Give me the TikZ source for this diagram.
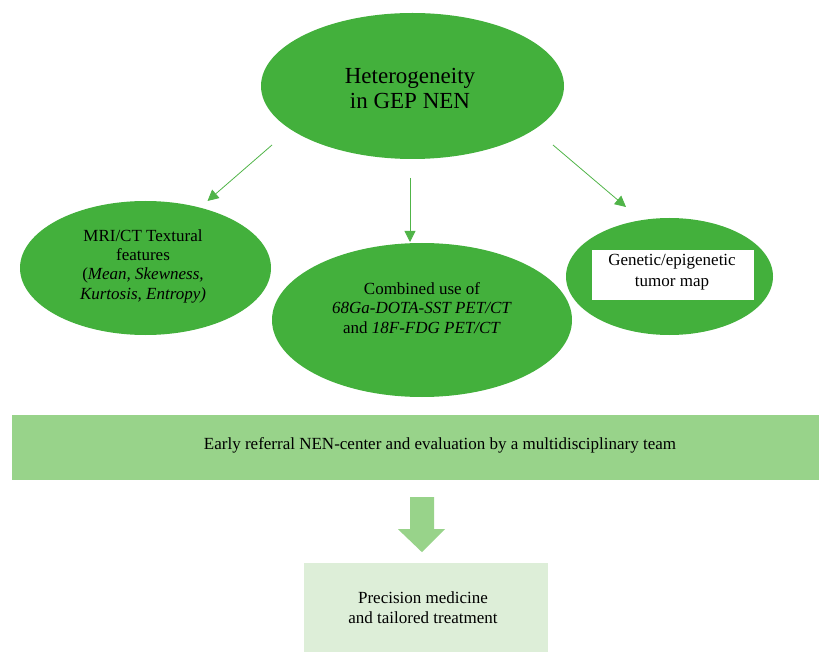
\documentclass[tikz,border=0pt]{standalone}
\usepackage{fontspec}
\setmainfont{Liberation Serif}
\usetikzlibrary{arrows.meta,shapes.geometric,calc}
\definecolor{ellgreen}{RGB}{67,176,60}
\definecolor{arrgreen}{RGB}{80,180,72}
\definecolor{barfill}{RGB}{152,211,138}
\definecolor{boxfill}{RGB}{221,238,216}
\tikzset{
  ell/.style={ellipse, fill=ellgreen, draw=none, inner sep=0pt},
  txt/.style={align=center, font=\fontsize{17}{20}\selectfont, text=black, inner sep=0pt, anchor=base},
  conn/.style={draw=arrgreen, line width=0.8pt, -{Triangle[length=11pt,width=11pt]}},
}
\begin{document}
\begin{tikzpicture}[x=1pt,y=-1pt]
\useasboundingbox (0,0) rectangle (819,652);
% ellipses
\node[ell, minimum width=303, minimum height=146] (top) at (412.5,86) {};
\node[ell, minimum width=251, minimum height=134] (left) at (145.5,268) {};
\node[ell, minimum width=300, minimum height=154] (mid) at (422,320) {};
\node[ell, minimum width=207, minimum height=117] (right) at (669.5,276.5) {};
\node[fill=white, minimum width=162, minimum height=50, inner sep=0pt] (rbox) at (673,275) {};
% texts (anchor = baseline of last line)
\node[txt, font=\fontsize{23}{25}\selectfont] (toptxt) at (410,109) {Heterogeneity\\in GEP NEN};
\node[txt, font=\fontsize{17}{19.3}\selectfont] (lefttxt) at (143,299) {MRI/CT Textural\\features\\(\textit{Mean, Skewness,}\\\textit{Kurtosis, Entropy)}};
\node[txt, font=\fontsize{17}{19.5}\selectfont] (midtxt) at (422,333) {Combined use of\\\textit{68Ga-DOTA-SST PET/CT}\\and \textit{18F-FDG PET/CT}};
\node[txt, font=\fontsize{17}{21}\selectfont] (righttxt) at (672,287) {Genetic/epigenetic\\tumor map};
% connectors
\coordinate (a1s) at ($(top.center)+(-140.5,59)$);
\coordinate (a1e) at ($(left.center)+(62,-67)$);
\coordinate (a2s) at ($(top.center)+(-2.5,92)$);
\coordinate (a2e) at ($(mid.center)+(-12,-78)$);
\coordinate (a3s) at ($(top.center)+(140.5,59)$);
\coordinate (a3e) at ($(right.center)+(-43.5,-69.5)$);
\draw[conn] (a1s) -- (a1e);
\draw[conn] (a2s) -- (a2e);
\draw[conn] (a3s) -- (a3e);
% bar
\node[fill=barfill, minimum width=807, minimum height=65, inner sep=0pt] (bar) at (415.5,447.5) {};
\node[txt] (bartxt) at (440,449) {Early referral NEN-center and evaluation by a multidisciplinary team};
% bottom box
\node[fill=boxfill, minimum width=244, minimum height=90, inner sep=0pt] (bot) at (426,608) {};
\node[txt] (bottxt) at (423,623) {Precision medicine\\and tailored treatment};
% big arrow
\fill[barfill] ($(bar.south)+(-5.5,17)$) -- ++(24,0) -- ++(0,32) -- ++(11,0) -- ++(-23,23) -- ++(-24,-23) -- ++(12,0) -- cycle;
\end{tikzpicture}
\end{document}
